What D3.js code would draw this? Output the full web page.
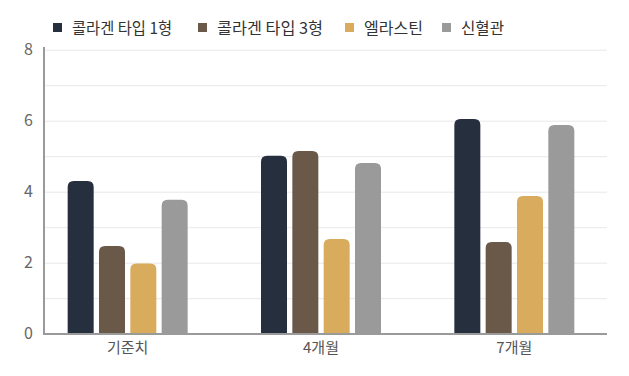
<!DOCTYPE html>
<html>
<head>
<meta charset="utf-8">
<script src="https://cdn.jsdelivr.net/npm/d3@7"></script>
<style>
  body { margin: 0; background: #fff; }
  svg { display: block; font-family: "Noto Sans CJK KR", "Noto Sans", sans-serif; }
</style>
</head>
<body>
<script>
const categories = ['기준치', '4개월', '7개월']
const seriesNames = ['콜라겐 타입 1형', '콜라겐 타입 3형', '엘라스틴', '신혈관']
const type1 = [4.3, 5.01, 6.05]
const type3 = [2.47, 5.15, 2.58]
const elastin = [1.98, 2.67, 3.88]
const vessel = [3.77, 4.81, 5.88]
const yTicks = [0, 2, 4, 6, 8]

const colors = ['#252f3e', '#6a5949', '#d9ab5c', '#9a9a9a']
const seriesValues = [type1, type3, elastin, vessel]

const width = 629, height = 376
const svg = d3.select('body').append('svg').attr('width', width).attr('height', height)

const y = d3.scaleLinear().domain([0, 8]).range([333.7, 49.7])
const x0 = d3.scaleBand().domain(categories).range([31, 611])
const x1 = d3.scaleBand().domain(d3.range(seriesNames.length)).range([-60, 60]).paddingInner(0.17)

// grid lines every 1 unit
svg.append('g').selectAll('line')
    .data(d3.range(1, 9))
    .enter()
    .append('line')
    .attr('x1', 45).attr('x2', 607)
    .attr('y1', d => y(d) + 0.5).attr('y2', d => y(d) + 0.5)
    .style('stroke', '#e8e8e8')

// y tick labels
svg.append('g').selectAll('text')
    .data(yTicks)
    .enter()
    .append('text')
    .attr('x', 33)
    .attr('y', d => y(d))
    .attr('dy', '0.35em')
    .attr('text-anchor', 'end')
    .style('font-size', '16px')
    .style('fill', '#666')
    .text(d => d)

function roundTop(x, yTop, w, h, r) {
    r = Math.min(r, h, w / 2)
    return `M${x},${yTop + h}V${yTop + r}Q${x},${yTop} ${x + r},${yTop}H${x + w - r}Q${x + w},${yTop} ${x + w},${yTop + r}V${yTop + h}Z`
}

const groups = svg.append('g').selectAll('g')
    .data(categories)
    .enter()
    .append('g')
    .attr('transform', d => `translate(${x0(d) + x0.bandwidth() / 2},0)`)

groups.selectAll('path')
    .data((c, ci) => seriesValues.map((vals, si) => ({ si, v: vals[ci] })))
    .enter()
    .append('path')
    .attr('d', d => roundTop(x1(d.si), y(d.v), x1.bandwidth(), y(0) - y(d.v), 6))
    .style('fill', d => colors[d.si])

// axes lines
svg.append('line')
    .attr('x1', 44).attr('x2', 44).attr('y1', 47).attr('y2', 334.5)
    .style('stroke', '#9a9a9a').style('stroke-width', 2)
svg.append('line')
    .attr('x1', 43).attr('x2', 607).attr('y1', 334).attr('y2', 334)
    .style('stroke', '#9a9a9a').style('stroke-width', 2)

// x labels
svg.append('g').selectAll('text')
    .data(categories)
    .enter()
    .append('text')
    .attr('x', d => x0(d) + x0.bandwidth() / 2)
    .attr('y', 348)
    .attr('dy', '0.35em')
    .attr('text-anchor', 'middle')
    .style('font-size', '15px')
    .style('fill', '#555')
    .text(d => d)

// legend
const legendX = [53, 198, 345, 442]
const legendW = [100, 106, 59, 43]
const legend = svg.append('g').selectAll('g')
    .data(seriesNames)
    .enter()
    .append('g')
    .attr('transform', (d, i) => `translate(${legendX[i]},23)`)
legend.append('rect')
    .attr('width', 9).attr('height', 9)
    .style('fill', (d, i) => colors[i])
legend.append('text')
    .attr('x', 19)
    .attr('y', 5)
    .attr('dy', '0.35em')
    .attr('textLength', (d, i) => legendW[i])
    .attr('lengthAdjust', 'spacingAndGlyphs')
    .style('font-size', '16px')
    .style('fill', '#333')
    .text(d => d)
</script>
</body>
</html>
